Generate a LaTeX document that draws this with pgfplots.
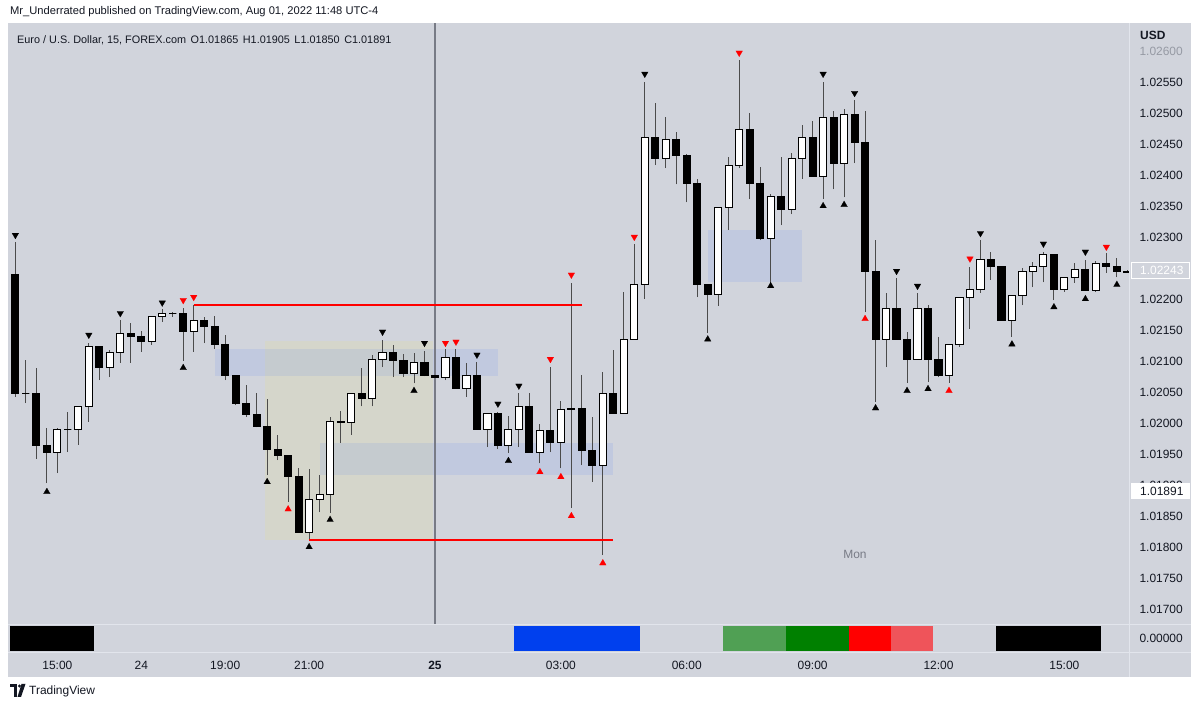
\documentclass[border=0pt]{standalone}
\usepackage{fontspec}
\setmainfont{Liberation Sans}
\usepackage{pgfplots}
\usepackage{pgfplotstable}
\pgfplotsset{compat=1.18}

\definecolor{tvbg}{RGB}{209,212,220}
\definecolor{tvtext}{RGB}{19,23,34}
\definecolor{tvfaint}{RGB}{150,154,164}
\definecolor{tvsep}{RGB}{226,229,236}
\definecolor{tvvline}{RGB}{120,123,134}
\definecolor{wickc}{RGB}{75,75,75}
\definecolor{tanc}{RGB}{255,235,59}
\definecolor{bluec}{RGB}{41,98,255}
\definecolor{tvred}{RGB}{255,0,0}
\definecolor{sessblue}{RGB}{0,64,238}
\definecolor{lgreen}{RGB}{80,160,84}
\definecolor{dgreen}{RGB}{0,128,0}
\definecolor{lred}{RGB}{239,84,90}

% EURUSD 15 min candles, k = bar index (41 = Mon 25 00:00)
\pgfplotstableread{
k O H L C
1 1.02239 1.02292 1.02042 1.02047
2 1.02047 1.02102 1.02032 1.02047
3 1.02047 1.02089 1.01942 1.01963
4 1.01963 1.01992 1.01903 1.01953
5 1.01953 1.01992 1.01919 1.01990
6 1.01990 1.02018 1.01953 1.01990
7 1.01990 1.02026 1.01965 1.02026
8 1.02026 1.02129 1.02002 1.02123
9 1.02123 1.02123 1.02069 1.02090
10 1.02090 1.02118 1.02074 1.02113
11 1.02113 1.02166 1.02097 1.02145
12 1.02145 1.02161 1.02097 1.02140
13 1.02140 1.02148 1.02115 1.02132
14 1.02132 1.02173 1.02126 1.02171
15 1.02171 1.02184 1.02163 1.02176
16 1.02176 1.02179 1.02171 1.02176
17 1.02177 1.02185 1.02100 1.02148
18 1.02148 1.02190 1.02115 1.02165
19 1.02165 1.02171 1.02129 1.02155
20 1.02155 1.02173 1.02120 1.02127
21 1.02126 1.02142 1.02069 1.02076
22 1.02076 1.02076 1.02029 1.02031
23 1.02031 1.02061 1.02010 1.02013
24 1.02013 1.02048 1.01993 1.01995
25 1.01995 1.02039 1.01916 1.01958
26 1.01958 1.01981 1.01940 1.01947
27 1.01947 1.01947 1.01873 1.01913
28 1.01913 1.01927 1.01823 1.01824
29 1.01824 1.01926 1.01811 1.01876
30 1.01876 1.01916 1.01856 1.01884
31 1.01884 1.02010 1.01855 1.02002
32 1.02002 1.02019 1.01968 1.02000
33 1.02000 1.02047 1.01981 1.02047
34 1.02047 1.02089 1.02027 1.02039
35 1.02039 1.02110 1.02027 1.02103
36 1.02103 1.02134 1.02090 1.02113
37 1.02113 1.02126 1.02074 1.02100
38 1.02100 1.02111 1.02074 1.02080
39 1.02080 1.02113 1.02064 1.02098
40 1.02098 1.02116 1.02075 1.02076
41 1.02076 1.02077 1.02073 1.02074
42 1.02073 1.02119 1.02069 1.02106
43 1.02106 1.02119 1.02055 1.02056
44 1.02056 1.02097 1.02042 1.02076
45 1.02076 1.02098 1.01990 1.01990
46 1.01990 1.02015 1.01961 1.02015
47 1.02015 1.02018 1.01958 1.01963
48 1.01963 1.02011 1.01952 1.01989
49 1.01989 1.02048 1.01961 1.02026
50 1.02026 1.02048 1.01952 1.01952
51 1.01952 1.01999 1.01935 1.01988
52 1.01988 1.02090 1.01953 1.01968
53 1.01968 1.02035 1.01927 1.02021
54 1.02021 1.02226 1.01863 1.02023
55 1.02024 1.02077 1.01932 1.01956
56 1.01956 1.02010 1.01905 1.01932
57 1.01932 1.02082 1.01787 1.02047
58 1.02047 1.02118 1.02016 1.02016
59 1.02016 1.02211 1.02016 1.02135
60 1.02135 1.02289 1.02134 1.02223
61 1.02224 1.02550 1.02200 1.02460
62 1.02460 1.02516 1.02416 1.02426
63 1.02426 1.02494 1.02411 1.02458
64 1.02458 1.02469 1.02385 1.02432
65 1.02432 1.02434 1.02356 1.02387
66 1.02387 1.02394 1.02203 1.02224
67 1.02224 1.02224 1.02145 1.02208
68 1.02208 1.02348 1.02189 1.02348
69 1.02348 1.02429 1.02311 1.02415
70 1.02415 1.02585 1.02411 1.02474
71 1.02474 1.02500 1.02361 1.02387
72 1.02387 1.02413 1.02295 1.02298
73 1.02298 1.02369 1.02226 1.02365
74 1.02365 1.02429 1.02319 1.02345
75 1.02345 1.02435 1.02337 1.02427
76 1.02427 1.02481 1.02394 1.02460
77 1.02460 1.02487 1.02397 1.02397
78 1.02397 1.02550 1.02361 1.02492
79 1.02492 1.02503 1.02377 1.02419
80 1.02419 1.02506 1.02364 1.02497
81 1.02497 1.02521 1.02419 1.02452
82 1.02452 1.02503 1.02179 1.02244
83 1.02244 1.02295 1.02034 1.02134
84 1.02134 1.02210 1.02090 1.02185
85 1.02185 1.02234 1.02134 1.02134
86 1.02134 1.02147 1.02065 1.02103
87 1.02103 1.02210 1.02103 1.02184
88 1.02184 1.02190 1.02066 1.02103
89 1.02103 1.02139 1.02074 1.02077
90 1.02077 1.02127 1.02065 1.02127
91 1.02127 1.02203 1.02123 1.02202
92 1.02202 1.02252 1.02152 1.02216
93 1.02216 1.02295 1.02210 1.02263
94 1.02263 1.02276 1.02231 1.02252
95 1.02252 1.02253 1.02165 1.02165
96 1.02165 1.02206 1.02139 1.02206
97 1.02206 1.02250 1.02190 1.02245
98 1.02245 1.02260 1.02219 1.02252
99 1.02252 1.02276 1.02227 1.02271
100 1.02271 1.02271 1.02198 1.02216
101 1.02216 1.02235 1.02212 1.02235
102 1.02235 1.02258 1.02226 1.02248
103 1.02248 1.02263 1.02213 1.02213
104 1.02213 1.02262 1.02212 1.02258
105 1.02258 1.02274 1.02242 1.02252
106 1.02252 1.02266 1.02235 1.02244
107 1.02244 1.02246 1.02243 1.02243
}\ohlc

\pgfplotsset{
  tvlabel/.style={font=\fontsize{12}{14}\selectfont, text=tvtext},
  tvnum/.style={/pgf/number format/fixed, /pgf/number format/fixed zerofill,
    /pgf/number format/precision=5, /pgf/number format/assume math mode=true},
}

\begin{document}
\begin{tikzpicture}[x=1bp, y=1bp]
\fill[white] (0,0) rectangle (1200,708);
\fill[tvbg] (8,31) rectangle (1191,685);

% ---------- price panel ----------
\begin{axis}[
  at={(8bp,84bp)}, anchor=south west,
  width=1121bp, height=601bp, scale only axis,
  xmin=0.295, xmax=107.16,
  ymin=1.016758, ymax=1.026452,
  axis line style={draw=none},
  major tick length=0pt,
  xtick=\empty,
  ytick={1.017,1.0175,1.018,1.0185,1.019,1.0195,1.02,1.0205,1.021,1.0215,1.022,1.0225,1.023,1.0235,1.024,1.0245,1.025,1.0255},
  extra y ticks={1.026},
  extra y tick style={yticklabel style={text=tvfaint}},
  yticklabel pos=right,
  yticklabel style={tvlabel, anchor=west, xshift=7bp, tvnum},
]
% zones
\addplot[draw=none, fill=tanc, fill opacity=0.1] coordinates {(24.8,1.01811) (40.8,1.01811) (40.8,1.02132) (24.8,1.02132)};
\addplot[draw=none, fill=bluec, fill opacity=0.09] coordinates {(20,1.02076) (47,1.02076) (47,1.02119) (20,1.02119)};
\addplot[draw=none, fill=bluec, fill opacity=0.09] coordinates {(30,1.01916) (58,1.01916) (58,1.01968) (30,1.01968)};
\addplot[draw=none, fill=bluec, fill opacity=0.09] coordinates {(67,1.02227) (76,1.02227) (76,1.02312) (67,1.02312)};
% day separator
\addplot[draw=tvvline, line width=1.5bp] coordinates {(41,1.016758) (41,1.026452)};

% candles
\pgfplotsforeachungrouped \ri in {0,...,106}{%
  \pgfplotstablegetelem{\ri}{k}\of\ohlc\let\ck\pgfplotsretval
  \pgfplotstablegetelem{\ri}{O}\of\ohlc\let\co\pgfplotsretval
  \pgfplotstablegetelem{\ri}{H}\of\ohlc\let\ch\pgfplotsretval
  \pgfplotstablegetelem{\ri}{L}\of\ohlc\let\cl\pgfplotsretval
  \pgfplotstablegetelem{\ri}{C}\of\ohlc\let\cc\pgfplotsretval
  \pgfmathsetmacro\xa{\ck-0.34}%
  \pgfmathsetmacro\xb{\ck+0.34}%
  \pgfmathtruncatemacro\up{\cc>=\co ? 1 : 0}%
  \ifnum\up=1 \def\bodyc{white}\else\def\bodyc{black}\fi
  \edef\candle{%
    \noexpand\addplot[draw=wickc, line width=1bp] coordinates {(\ck,\cl) (\ck,\ch)};%
    \noexpand\addplot[draw=black, line width=1bp, line cap=rect, line join=miter, fill=\bodyc] coordinates {(\xa,\co) (\xb,\co) (\xb,\cc) (\xa,\cc) (\xa,\co)};%
  }\candle
}

% levels
\addplot[draw=tvred, line width=2bp] coordinates {(18,1.0219) (55,1.0219)};
\addplot[draw=tvred, line width=2bp] coordinates {(29,1.01811) (58,1.01811)};

% swing markers
\addplot[only marks, mark=triangle*, mark size=3.8bp, mark options={rotate=180, fill=black, draw=black, line width=0.2bp}] table {
k y
1 1.02303
8 1.02142
11 1.02177
15 1.02194
36 1.02147
40 1.02129
45 1.02110
47 1.02031
49 1.02060
61 1.02563
78 1.02563
81 1.02532
85 1.02245
87 1.02221
93 1.02306
99 1.02289
103 1.02276
};
\addplot[only marks, mark=triangle*, mark size=3.8bp, mark options={rotate=180, fill=tvred, draw=tvred, line width=0.2bp}] table {
k y
17 1.02198
18 1.02203
42 1.02129
43 1.02131
52 1.02103
54 1.02239
60 1.02300
70 1.02597
92 1.02265
105 1.02284
};
\addplot[only marks, mark=triangle*, mark size=3.8bp, mark options={fill=black, draw=black, line width=0.2bp}] table {
k y
4 1.01889
17 1.02089
25 1.01905
29 1.01800
31 1.01844
39 1.02052
48 1.01939
67 1.02135
73 1.02221
78 1.02350
80 1.02352
83 1.02024
86 1.02052
88 1.02055
96 1.02127
100 1.02187
103 1.02200
106 1.02223
};
\addplot[only marks, mark=triangle*, mark size=3.8bp, mark options={fill=tvred, draw=tvred, line width=0.2bp}] table {
k y
27 1.01861
51 1.01921
53 1.01913
54 1.01850
57 1.01774
82 1.02168
90 1.02052
};
\end{axis}

% ---------- session panel ----------
\begin{axis}[
  at={(8bp,56bp)}, anchor=south west,
  width=1121bp, height=27bp, scale only axis,
  xmin=0.295, xmax=107.16, ymin=0, ymax=1,
  axis line style={draw=none},
  major tick length=0pt,
  xtick={5,13,21,29,41,53,65,77,89,101},
  xticklabels={15:00,24,19:00,21:00,\textbf{25},03:00,06:00,09:00,12:00,15:00},
  xticklabel style={tvlabel, yshift=-6bp},
  ytick={0.5}, yticklabels={0.00000},
  yticklabel pos=right,
  yticklabel style={tvlabel, anchor=west, xshift=7bp},
]
\addplot[draw=none, fill=black] coordinates {(0.5,0.04) (8.5,0.04) (8.5,0.96) (0.5,0.96)};
\addplot[draw=none, fill=sessblue] coordinates {(48.5,0.04) (60.5,0.04) (60.5,0.96) (48.5,0.96)};
\addplot[draw=none, fill=lgreen] coordinates {(68.5,0.04) (74.5,0.04) (74.5,0.96) (68.5,0.96)};
\addplot[draw=none, fill=dgreen] coordinates {(74.5,0.04) (80.5,0.04) (80.5,0.96) (74.5,0.96)};
\addplot[draw=none, fill=tvred] coordinates {(80.5,0.04) (84.5,0.04) (84.5,0.96) (80.5,0.96)};
\addplot[draw=none, fill=lred] coordinates {(84.5,0.04) (88.5,0.04) (88.5,0.96) (84.5,0.96)};
\addplot[draw=none, fill=black] coordinates {(94.5,0.04) (104.5,0.04) (104.5,0.96) (94.5,0.96)};
\end{axis}

% separators
\draw[tvsep, line width=1bp] (1129,31) -- (1129,685);
\draw[tvsep, line width=1bp] (8,83.5) -- (1191,83.5);
\draw[tvsep, line width=1bp] (8,55.5) -- (1191,55.5);

% price scale badges (cover the round labels behind them, as in the app)
\node[font=\fontsize{12}{14}\selectfont\bfseries, text=tvtext, anchor=west, inner sep=0] at (1140,673) {USD};
\draw[white, fill=tvbg, line width=1bp] (1131.5,429.5) rectangle (1189.5,445.5);
\node[font=\fontsize{12}{14}\selectfont, text=white, anchor=west, inner sep=0] at (1140,437.5) {1.02243};
\fill[white] (1131,209) rectangle (1190,225);
\node[font=\fontsize{12}{14}\selectfont, text=tvtext, anchor=west, inner sep=0] at (1140,217) {1.01891};

% texts
\node[font=\fontsize{11.2}{13}\selectfont, text=tvtext, anchor=west, inner sep=0] at (10,696) {Mr\_Underrated published on TradingView.com, Aug 01, 2022 11:48 UTC-4};
\node[font=\fontsize{10.9}{13}\selectfont, text=tvtext, anchor=west, inner sep=0] at (17,668) {Euro / U.S. Dollar, 15, FOREX.com\hspace{1.5bp} O1.01865\hspace{1.5bp} H1.01905\hspace{1.5bp} L1.01850\hspace{1.5bp} C1.01891};
\node[font=\fontsize{12}{14}\selectfont, text=tvvline] at (855,154) {Mon};

% footer logo
\fill[tvtext] (10,21) rectangle (17,24);
\fill[tvtext] (14,11) rectangle (17,24);
\fill[tvtext] (19.5,22) circle (1.6);
\fill[tvtext] (21.5,24) -- (25.5,24) -- (21,11) -- (17.5,11) -- cycle;
\node[font=\fontsize{12}{14}\selectfont, text=tvtext, anchor=west, inner sep=0] at (29,17) {TradingView};
\end{tikzpicture}
\end{document}
